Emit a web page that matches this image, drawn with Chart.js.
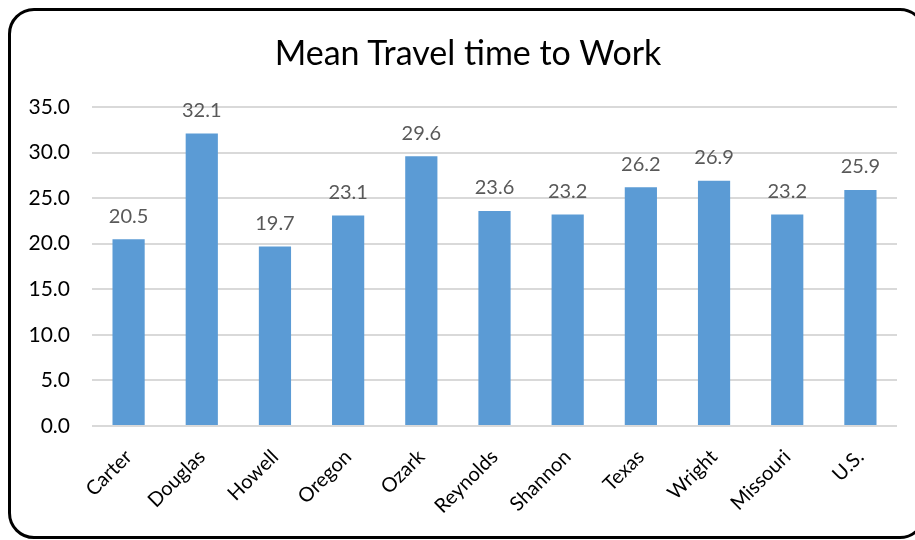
<!DOCTYPE html>
<html>
<head>
<meta charset="utf-8">
<script src="https://cdn.jsdelivr.net/npm/chart.js@4"></script>
<style>
  html, body { margin: 0; padding: 0; background: #fff; overflow: hidden; }
  #wrap { position: relative; width: 915px; height: 540px; }
  #frame {
    position: absolute; left: 8px; top: 8px; width: 918px; height: 531px;
    border: 3px solid #000; border-radius: 26px; box-sizing: border-box;
  }
  #title {
    position: absolute; left: 268px; width: 400px; top: 32px;
    text-align: center; font: 34px/40px Lato, "Open Sans", sans-serif; color: #000;
  }
  canvas { position: absolute; left: 0; top: 0; }
</style>
</head>
<body>
<div id="wrap">
  <div id="frame"></div>
  <canvas id="travel" width="915" height="540"></canvas>
  <div id="title">Mean Travel time to Work</div>
</div>
<script>
// counties + state + national
let counties = ['Carter', 'Douglas', 'Howell', 'Oregon', 'Ozark', 'Reynolds',
  'Shannon', 'Texas', 'Wright', 'Missouri', 'U.S.']
let minutes = [20.5, 32.1, 19.7, 23.1, 29.6, 23.6, 23.2, 26.2, 26.9, 23.2, 25.9]
let yTicks = [0, 5, 10, 15, 20, 25, 30, 35]

const FONT = 'Lato, "Open Sans", sans-serif'

// values on top of the bars
let barLabels = {
  id: 'barLabels',
  afterDatasetsDraw(chart) {
    let ctx = chart.ctx
    let meta = chart.getDatasetMeta(0)
    ctx.save()
    ctx.font = '20px ' + FONT
    ctx.fillStyle = '#595959'
    ctx.textAlign = 'center'
    ctx.textBaseline = 'bottom'
    meta.data.forEach((bar, i) => {
      ctx.fillText(minutes[i].toFixed(1), bar.x, bar.y - 13)
    })
    ctx.restore()
  }
}

let ctx = document.getElementById('travel').getContext('2d')
let chart = new Chart(ctx, {
  type: 'bar',
  data: {
    labels: counties,
    datasets: [{
      label: 'Mean Travel time to Work',
      data: minutes,
      backgroundColor: '#5b9bd5',
      barPercentage: 0.88,
      categoryPercentage: 0.5
    }]
  },
  options: {
    responsive: false,
    animation: false,
    layout: { padding: { left: 0, right: 18, top: 107, bottom: 0 } },
    plugins: {
      legend: { display: false },
      tooltip: { enabled: false },
      title: { display: false }
    },
    scales: {
      x: {
        grid: { display: false, drawTicks: false },
        border: { display: false },
        ticks: {
          color: '#000',
          font: { family: FONT, size: 20 },
          maxRotation: 45,
          minRotation: 45,
          padding: 19
        },
        afterFit(scale) { scale.height = 114 }
      },
      y: {
        min: 0,
        max: 35,
        afterBuildTicks(scale) { scale.ticks = yTicks.map(v => ({ value: v })) },
        grid: { color: '#d9d9d9', lineWidth: 2, drawTicks: false },
        border: { display: false },
        ticks: {
          color: '#000',
          font: { family: FONT, size: 21 },
          padding: 22,
          callback: v => v.toFixed(1)
        },
        afterFit(scale) { scale.width = 92 }
      }
    }
  },
  plugins: [barLabels]
})
</script>
</body>
</html>
